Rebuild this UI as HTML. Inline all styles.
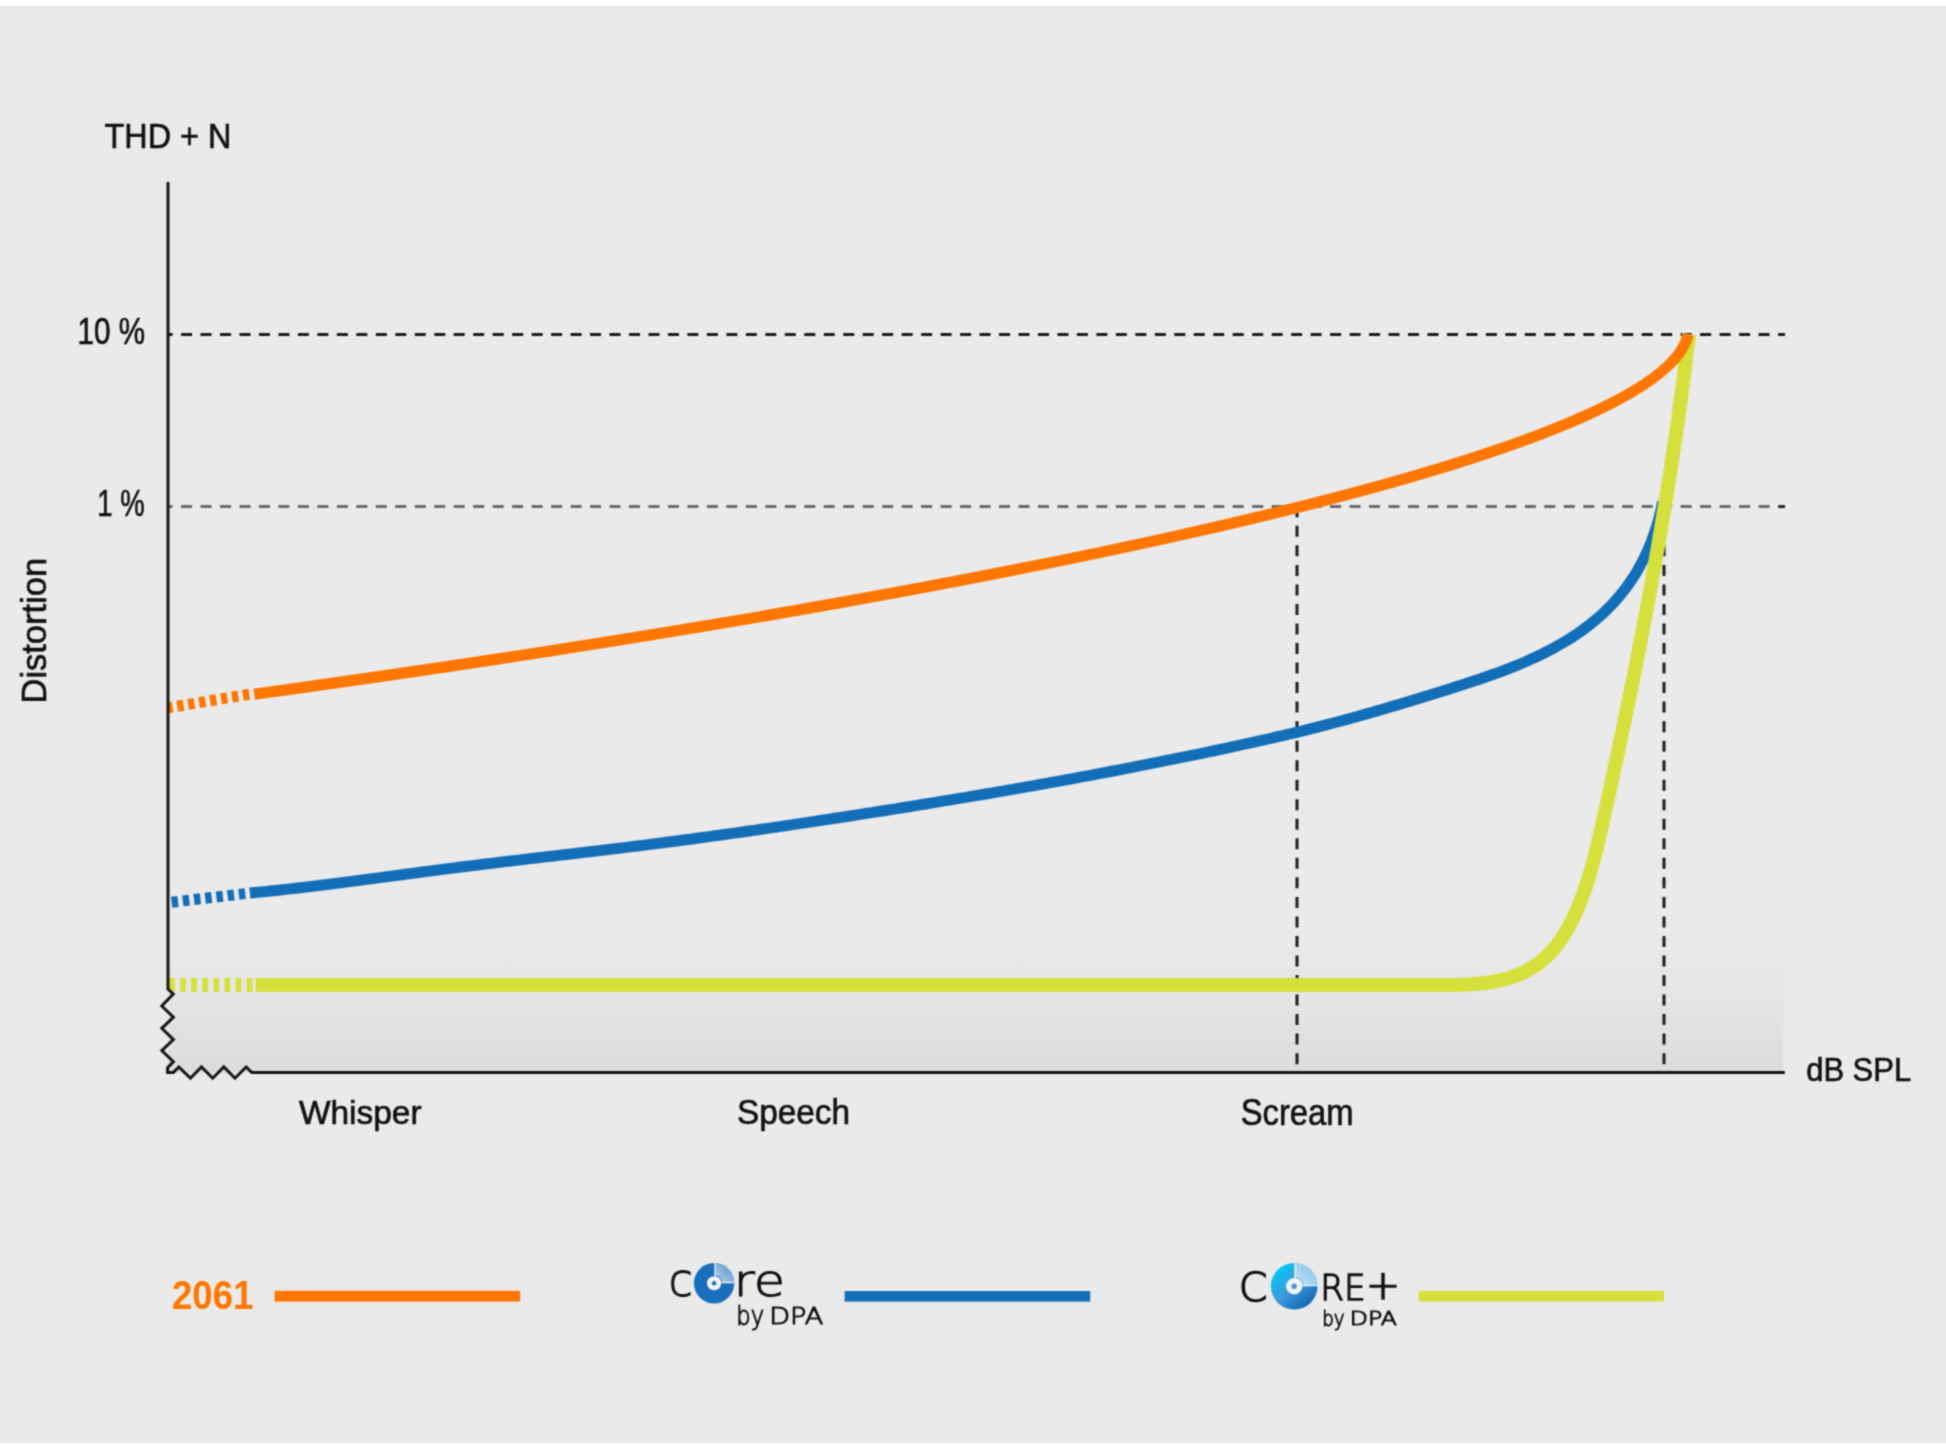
<!DOCTYPE html>
<html><head><meta charset="utf-8"><title>THD + N distortion chart</title>
<style>
html,body{margin:0;padding:0;background:#fff;}
body{width:1946px;height:1445px;overflow:hidden;}
svg{display:block;}
</style></head><body>
<svg width="1946" height="1445" viewBox="0 0 1946 1445">
<defs>
<filter id="soft" x="0" y="0" width="1946" height="1445" filterUnits="userSpaceOnUse" color-interpolation-filters="sRGB"><feConvolveMatrix order="3" kernelMatrix="0.04385 0.1217 0.04385 0.1217 0.3378 0.1217 0.04385 0.1217 0.04385" divisor="1" edgeMode="duplicate"/></filter>
<linearGradient id="floor" x1="0" y1="0" x2="0" y2="1"><stop offset="0" stop-color="#000" stop-opacity="0"/><stop offset="0.45" stop-color="#000" stop-opacity="0.018"/><stop offset="1" stop-color="#000" stop-opacity="0.062"/></linearGradient>
<linearGradient id="disc2" x1="0.15" y1="0.1" x2="0.85" y2="0.9"><stop offset="0" stop-color="#00caf8"/><stop offset="0.5" stop-color="#3d9bdb"/><stop offset="1" stop-color="#1263b3"/></linearGradient>
</defs>
<g filter="url(#soft)">
<rect x="0" y="0" width="1946" height="1445" fill="#ffffff"/>
<rect x="0" y="6" width="1946" height="1437" fill="#eaeaea"/>
<rect x="0" y="6" width="1946" height="1" fill="#e2e2e2"/>
<rect x="168" y="925" width="1615.5" height="148" fill="url(#floor)"/>
<line x1="168" y1="334.5" x2="1785" y2="334.5" stroke="#1c1c1c" stroke-width="3" stroke-dasharray="11 8.475" stroke-dashoffset="6.4"/>
<line x1="168" y1="506.6" x2="1785" y2="506.6" stroke="#6b6b6b" stroke-width="3" stroke-dasharray="11 8.475" stroke-dashoffset="6.4"/>
<line x1="1778.6" y1="506.6" x2="1785" y2="506.6" stroke="#2a2a2a" stroke-width="3"/>
<line x1="1297" y1="506.3" x2="1297" y2="1065" stroke="#1c1c1c" stroke-width="3" stroke-dasharray="11 8.53"/>
<line x1="1664" y1="506.3" x2="1664" y2="1065" stroke="#1c1c1c" stroke-width="3" stroke-dasharray="11 8.53"/>
<path d="M168,985 L256,985" stroke="#d5e03c" stroke-width="14" fill="none" stroke-dasharray="5.8 5.3" stroke-dashoffset="-1"/>
<path d="M168,902.6 L250.5,893" stroke="#126eb7" stroke-width="11" fill="none" stroke-dasharray="6.45 4.83" stroke-dashoffset="7.65"/>
<path d="M168,707.8 L250.5,694" stroke="#ff7600" stroke-width="11" fill="none" stroke-dasharray="6.4 4.7" stroke-dashoffset="1.77"/>
<path d="M250.0,893.0 255.1,892.5 260.2,892.1 265.2,891.6 270.3,891.0 275.4,890.5 280.5,890.0 285.5,889.4 290.6,888.9 295.7,888.3 300.7,887.7 305.8,887.1 310.8,886.5 315.9,885.9 321.0,885.3 326.0,884.6 331.1,884.0 336.1,883.4 341.2,882.7 346.3,882.1 351.3,881.4 356.4,880.8 361.4,880.1 366.5,879.4 371.5,878.8 376.6,878.1 381.6,877.4 386.7,876.7 391.7,876.1 396.8,875.4 401.9,874.7 406.9,874.0 412.0,873.4 417.0,872.7 422.1,872.0 427.1,871.4 432.2,870.7 437.2,870.1 442.3,869.4 447.4,868.8 452.4,868.1 457.5,867.5 462.5,866.8 467.6,866.2 472.6,865.6 477.7,865.0 482.8,864.3 487.8,863.7 492.9,863.1 498.0,862.5 503.0,861.9 508.1,861.3 513.1,860.7 518.2,860.1 523.3,859.5 528.3,858.9 533.4,858.3 538.5,857.7 543.5,857.1 548.6,856.5 553.7,856.0 558.7,855.4 563.8,854.8 568.9,854.2 573.9,853.6 579.0,853.0 584.0,852.4 589.1,851.8 594.2,851.2 599.2,850.6 604.3,850.0 609.4,849.4 614.4,848.8 619.5,848.2 624.5,847.6 629.6,846.9 634.7,846.3 639.7,845.7 644.8,845.1 649.8,844.4 654.9,843.8 660.0,843.1 665.0,842.5 670.1,841.8 675.1,841.2 680.2,840.5 685.2,839.8 690.3,839.2 695.3,838.5 700.4,837.8 705.4,837.1 710.5,836.4 715.5,835.7 720.6,835.0 725.6,834.3 730.7,833.6 735.7,832.9 740.8,832.2 745.8,831.5 750.9,830.8 755.9,830.1 761.0,829.3 766.0,828.6 771.1,827.9 776.1,827.1 781.2,826.4 786.2,825.6 791.2,824.9 796.3,824.1 801.3,823.4 806.4,822.6 811.4,821.9 816.5,821.1 821.5,820.3 826.5,819.6 831.6,818.8 836.6,818.0 841.7,817.3 846.7,816.5 851.7,815.7 856.8,814.9 861.8,814.1 866.8,813.3 871.9,812.6 876.9,811.8 882.0,811.0 887.0,810.2 892.0,809.4 897.1,808.6 902.1,807.8 907.1,807.0 912.2,806.2 917.2,805.3 922.2,804.5 927.3,803.7 932.3,802.9 937.3,802.1 942.4,801.2 947.4,800.4 952.4,799.6 957.5,798.7 962.5,797.9 967.5,797.1 972.6,796.2 977.6,795.4 982.6,794.5 987.6,793.7 992.7,792.8 997.7,791.9 1002.7,791.1 1007.7,790.2 1012.8,789.3 1017.8,788.4 1022.8,787.6 1027.8,786.7 1032.9,785.8 1037.9,784.9 1042.9,784.0 1047.9,783.1 1052.9,782.2 1058.0,781.3 1063.0,780.4 1068.0,779.5 1073.0,778.6 1078.0,777.6 1083.0,776.7 1088.0,775.8 1093.1,774.8 1098.1,773.9 1103.1,772.9 1108.1,772.0 1113.1,771.0 1118.1,770.1 1123.1,769.1 1128.1,768.2 1133.1,767.2 1138.1,766.2 1143.1,765.2 1148.1,764.2 1153.1,763.2 1158.1,762.2 1163.1,761.2 1168.1,760.2 1173.1,759.2 1178.1,758.2 1183.1,757.2 1188.1,756.2 1193.1,755.1 1198.1,754.1 1203.1,753.1 1208.1,752.0 1213.1,751.0 1218.1,749.9 1223.1,748.8 1228.0,747.8 1233.0,746.7 1238.0,745.6 1243.0,744.5 1248.0,743.4 1253.0,742.3 1257.9,741.2 1262.9,740.1 1267.9,739.0 1272.9,737.9 1277.8,736.7 1282.8,735.6 1287.7,734.4 1292.7,733.3 1297.7,732.1 1302.6,730.9 1307.5,729.6 1312.5,728.4 1317.4,727.1 1322.3,725.9 1327.2,724.6 1332.2,723.3 1337.1,722.0 1342.0,720.7 1346.9,719.4 1351.8,718.0 1356.7,716.7 1361.6,715.3 1366.5,713.9 1371.4,712.5 1376.2,711.1 1381.1,709.7 1386.0,708.3 1390.9,706.8 1395.8,705.4 1400.7,703.9 1405.5,702.5 1410.4,701.0 1415.3,699.5 1420.2,698.0 1425.1,696.5 1430.0,695.0 1434.8,693.5 1439.7,692.0 1444.6,690.4 1449.5,688.9 1454.4,687.3 1459.3,685.8 1464.2,684.2 1469.1,682.6 1473.9,681.0 1478.8,679.4 1483.7,677.7 1488.5,676.0 1493.4,674.3 1498.2,672.6 1503.0,670.8 1507.8,669.0 1512.5,667.1 1517.3,665.2 1522.0,663.2 1526.7,661.2 1531.3,659.1 1536.0,657.0 1540.6,654.8 1545.1,652.5 1549.7,650.2 1554.2,647.8 1558.6,645.3 1563.0,642.8 1567.4,640.2 1571.7,637.5 1576.0,634.7 1580.2,631.8 1584.3,628.8 1588.4,625.8 1592.3,622.6 1596.3,619.4 1600.1,616.0 1603.8,612.6 1607.5,609.1 1611.0,605.5 1614.5,601.7 1617.9,597.9 1621.1,594.0 1624.3,590.1 1627.3,586.0 1630.2,581.8 1633.1,577.6 1635.8,573.3 1638.4,568.9 1640.8,564.4 1643.2,559.9 1645.4,555.3 1647.6,550.7 1649.6,545.9 1651.5,541.2 1653.2,536.4 1654.9,531.5 1656.5,526.6 1657.9,521.7 1659.3,516.8 1660.5,511.8 1661.7,506.8 1662.7,501.8" stroke="#126eb7" stroke-width="11" fill="none" stroke-linejoin="round"/>
<path d="M255.8,985.0 L1380.0,985.0 1382.7,985.0 1385.5,985.0 1388.2,985.0 1391.0,985.0 1393.7,985.0 1396.4,985.0 1399.2,985.0 1401.9,985.0 1404.6,985.0 1407.3,985.0 1410.1,985.0 1412.8,985.0 1415.5,985.0 1418.2,985.0 1420.9,985.0 1423.7,985.0 1426.4,985.0 1429.1,985.0 1431.8,985.0 1434.6,985.0 1437.3,985.0 1440.1,985.0 1442.8,985.0 1445.5,985.0 1448.3,985.0 1451.1,985.0 1453.8,985.0 1456.6,984.9 1459.4,984.8 1462.2,984.7 1465.0,984.6 1467.7,984.4 1470.5,984.3 1473.3,984.1 1476.1,983.9 1478.9,983.6 1481.6,983.3 1484.4,983.0 1487.1,982.7 1489.9,982.3 1492.6,981.8 1495.3,981.3 1498.0,980.8 1500.7,980.2 1503.3,979.6 1505.9,978.9 1508.5,978.2 1511.1,977.4 1513.6,976.5 1516.2,975.6 1518.6,974.6 1521.1,973.6 1523.5,972.5 1525.9,971.3 1528.2,970.0 1530.5,968.7 1532.8,967.3 1535.0,965.9 1537.2,964.4 1539.3,962.8 1541.4,961.2 1543.4,959.4 1545.4,957.7 1547.3,955.9 1549.2,954.0 1551.0,952.0 1552.8,950.0 1554.6,948.0 1556.3,945.9 1557.9,943.8 1559.5,941.6 1561.1,939.3 1562.6,937.1 1564.1,934.8 1565.5,932.4 1566.9,930.1 1568.3,927.7 1569.6,925.2 1570.9,922.8 1572.2,920.3 1573.4,917.8 1574.6,915.2 1575.7,912.7 1576.9,910.2 1578.0,907.6 1579.0,905.0 1580.1,902.4 1581.1,899.8 1582.1,897.2 1583.0,894.6 1584.0,892.0 1584.9,889.4 1585.8,886.8 1586.6,884.2 1587.5,881.6 1588.3,878.9 1589.1,876.3 1589.9,873.7 1590.7,871.1 1591.4,868.4 1592.2,865.8 1592.9,863.2 1593.6,860.5 1594.3,857.9 1595.0,855.2 1595.7,852.6 1596.3,849.9 1597.0,847.3 1597.6,844.6 1598.2,842.0 1598.9,839.3 1599.5,836.7 1600.1,834.0 1600.7,831.4 1601.3,828.7 1601.9,826.0 1602.5,823.4 1603.1,820.7 1603.7,818.1 1604.3,815.4 1604.8,812.7 1605.4,810.1 1606.0,807.4 1606.6,804.8 1607.2,802.1 1607.8,799.4 1608.4,796.8 1608.9,794.1 1609.5,791.4 1610.1,788.8 1610.7,786.1 1611.3,783.4 1611.8,780.8 1612.4,778.1 1613.0,775.4 1613.6,772.8 1614.2,770.1 1614.7,767.4 1615.3,764.8 1615.9,762.1 1616.4,759.4 1617.0,756.8 1617.6,754.1 1618.1,751.4 1618.7,748.8 1619.3,746.1 1619.8,743.4 1620.4,740.7 1621.0,738.1 1621.5,735.4 1622.1,732.7 1622.7,730.1 1623.2,727.4 1623.8,724.7 1624.3,722.0 1624.9,719.4 1625.4,716.7 1626.0,714.0 1626.5,711.3 1627.1,708.7 1627.6,706.0 1628.2,703.3 1628.7,700.6 1629.3,698.0 1629.8,695.3 1630.4,692.6 1630.9,689.9 1631.5,687.3 1632.0,684.6 1632.5,681.9 1633.1,679.2 1633.6,676.5 1634.2,673.9 1634.7,671.2 1635.2,668.5 1635.8,665.8 1636.3,663.1 1636.8,660.5 1637.3,657.8 1637.9,655.1 1638.4,652.4 1638.9,649.7 1639.4,647.0 1640.0,644.4 1640.5,641.7 1641.0,639.0 1641.5,636.3 1642.0,633.6 1642.5,630.9 1643.1,628.3 1643.6,625.6 1644.1,622.9 1644.6,620.2 1645.1,617.5 1645.6,614.8 1646.1,612.1 1646.6,609.5 1647.1,606.8 1647.6,604.1 1648.1,601.4 1648.6,598.7 1649.1,596.0 1649.6,593.3 1650.1,590.6 1650.6,587.9 1651.1,585.3 1651.6,582.6 1652.1,579.9 1652.5,577.2 1653.0,574.5 1653.5,571.8 1654.0,569.1 1654.5,566.4 1655.0,563.7 1655.4,561.0 1655.9,558.3 1656.4,555.7 1656.8,553.0 1657.3,550.3 1657.8,547.6 1658.3,544.9 1658.7,542.2 1659.2,539.5 1659.6,536.8 1660.1,534.1 1660.6,531.4 1661.0,528.7 1661.5,526.0 1661.9,523.3 1662.4,520.6 1662.8,517.9 1663.3,515.2 1663.7,512.5 1664.2,509.8 1664.6,507.1 1665.1,504.4 1665.5,501.7 1665.9,499.1 1666.4,496.4 1666.8,493.7 1667.2,491.0 1667.7,488.3 1668.1,485.6 1668.5,482.9 1669.0,480.2 1669.4,477.5 1669.8,474.8 1670.2,472.1 1670.6,469.4 1671.1,466.7 1671.5,464.0 1671.9,461.3 1672.3,458.6 1672.7,455.9 1673.1,453.2 1673.5,450.5 1673.9,447.7 1674.3,445.0 1674.7,442.3 1675.1,439.6 1675.5,436.9 1675.9,434.2 1676.3,431.5 1676.7,428.8 1677.1,426.1 1677.5,423.4 1677.9,420.7 1678.2,418.0 1678.6,415.3 1679.0,412.6 1679.4,409.9 1679.7,407.2 1680.1,404.5 1680.5,401.8 1680.9,399.1 1681.2,396.4 1681.6,393.7 1681.9,391.0 1682.3,388.3 1682.7,385.5 1683.0,382.8 1683.4,380.1 1683.7,377.4 1684.1,374.7 1684.4,372.0 1684.8,369.3 1685.1,366.6 1685.5,363.9 1685.8,361.2 1686.1,358.5 1686.5,355.8 1686.8,353.0 1687.1,350.3 1687.4,347.6 1687.8,344.9 1688.1,342.2 1688.4,339.5 1688.7,336.8 1689.1,334.1" stroke="#d5e03c" stroke-width="14" fill="none" stroke-linejoin="round"/>
<path d="M252.00,693.80 C840.66,613.35 1660.21,469.13 1688.00,334.00" stroke="#ff7600" stroke-width="11.2" fill="none" stroke-dasharray="0 2.3 100000" transform="translate(0,0.7)"/>
<path d="M168,182 L168,989 L173.2,994 L161.8,1006 L173.4,1017.2 L161.8,1028.3 L173.4,1039.5 L161.8,1050.6 L173.4,1061.7 L167.6,1067.6 L167.6,1072.4 L173.4,1072.4 L178.8,1067 L190.4,1078.2 L201.5,1067 L212.7,1078.2 L223.8,1067 L235,1078.2 L246.1,1067 L251.9,1072.6 L1784.8,1072.6" stroke="#151515" stroke-width="3" fill="none" stroke-linejoin="miter"/>
<rect x="274.5" y="1290.8" width="245.7" height="10.8" fill="#ff7600"/>
<rect x="844.6" y="1291" width="245.6" height="10.6" fill="#126eb7"/>
<rect x="1418.7" y="1290.8" width="245.3" height="10.8" fill="#d5e03c"/>
<circle cx="714.10" cy="1283.25" r="20.20" fill="#1a6fbd"/>
<path d="M714.10,1283.25 L714.10,1263.05 A20.20,20.20 0 0 1 734.30,1283.25 Z" fill="#5591cd"/>
<line x1="715.22" y1="1274.72" x2="716.76" y2="1263.02" stroke="#ffffff" stroke-width="0.9" stroke-opacity="0.75"/>
<line x1="716.33" y1="1274.94" x2="719.38" y2="1263.55" stroke="#ffffff" stroke-width="0.9" stroke-opacity="0.75"/>
<line x1="717.39" y1="1275.30" x2="721.91" y2="1264.40" stroke="#ffffff" stroke-width="0.9" stroke-opacity="0.75"/>
<line x1="718.40" y1="1275.80" x2="724.30" y2="1265.58" stroke="#ffffff" stroke-width="0.9" stroke-opacity="0.75"/>
<line x1="719.34" y1="1276.43" x2="726.52" y2="1267.07" stroke="#ffffff" stroke-width="0.9" stroke-opacity="0.75"/>
<line x1="720.18" y1="1277.17" x2="728.52" y2="1268.83" stroke="#ffffff" stroke-width="0.9" stroke-opacity="0.75"/>
<line x1="720.92" y1="1278.01" x2="730.28" y2="1270.83" stroke="#ffffff" stroke-width="0.9" stroke-opacity="0.75"/>
<line x1="721.55" y1="1278.95" x2="731.77" y2="1273.05" stroke="#ffffff" stroke-width="0.9" stroke-opacity="0.75"/>
<line x1="722.05" y1="1279.96" x2="732.95" y2="1275.44" stroke="#ffffff" stroke-width="0.9" stroke-opacity="0.75"/>
<line x1="722.41" y1="1281.02" x2="733.80" y2="1277.97" stroke="#ffffff" stroke-width="0.9" stroke-opacity="0.75"/>
<line x1="722.63" y1="1282.13" x2="734.33" y2="1280.59" stroke="#ffffff" stroke-width="0.9" stroke-opacity="0.75"/>
<line x1="715.00" y1="1262.55" x2="715.00" y2="1276.15" stroke="#fff" stroke-width="1"/>
<line x1="721.20" y1="1282.65" x2="734.80" y2="1282.65" stroke="#fff" stroke-width="1"/>
<circle cx="714.10" cy="1283.25" r="7.10" fill="#f2f2f2"/>
<circle cx="714.10" cy="1283.25" r="2.20" fill="#1a6fbd"/>
<circle cx="1294.20" cy="1286.20" r="23.30" fill="url(#disc2)"/>
<path d="M1294.20,1286.20 L1294.20,1262.90 A23.30,23.30 0 0 1 1317.50,1286.20 Z" fill="#86c2ea"/>
<line x1="1295.47" y1="1276.58" x2="1297.27" y2="1262.90" stroke="#ffffff" stroke-width="0.9" stroke-opacity="0.75"/>
<line x1="1296.71" y1="1276.83" x2="1300.28" y2="1263.50" stroke="#ffffff" stroke-width="0.9" stroke-opacity="0.75"/>
<line x1="1297.91" y1="1277.24" x2="1303.19" y2="1264.49" stroke="#ffffff" stroke-width="0.9" stroke-opacity="0.75"/>
<line x1="1299.05" y1="1277.80" x2="1305.95" y2="1265.85" stroke="#ffffff" stroke-width="0.9" stroke-opacity="0.75"/>
<line x1="1300.10" y1="1278.50" x2="1308.51" y2="1267.56" stroke="#ffffff" stroke-width="0.9" stroke-opacity="0.75"/>
<line x1="1301.06" y1="1279.34" x2="1310.82" y2="1269.58" stroke="#ffffff" stroke-width="0.9" stroke-opacity="0.75"/>
<line x1="1301.90" y1="1280.30" x2="1312.84" y2="1271.89" stroke="#ffffff" stroke-width="0.9" stroke-opacity="0.75"/>
<line x1="1302.60" y1="1281.35" x2="1314.55" y2="1274.45" stroke="#ffffff" stroke-width="0.9" stroke-opacity="0.75"/>
<line x1="1303.16" y1="1282.49" x2="1315.91" y2="1277.21" stroke="#ffffff" stroke-width="0.9" stroke-opacity="0.75"/>
<line x1="1303.57" y1="1283.69" x2="1316.90" y2="1280.12" stroke="#ffffff" stroke-width="0.9" stroke-opacity="0.75"/>
<line x1="1303.82" y1="1284.93" x2="1317.50" y2="1283.13" stroke="#ffffff" stroke-width="0.9" stroke-opacity="0.75"/>
<line x1="1295.10" y1="1262.40" x2="1295.10" y2="1278.00" stroke="#fff" stroke-width="1"/>
<line x1="1302.40" y1="1285.60" x2="1318.00" y2="1285.60" stroke="#fff" stroke-width="1"/>
<circle cx="1294.20" cy="1286.20" r="8.20" fill="#f2f2f2"/>
<circle cx="1294.20" cy="1286.20" r="2.70" fill="#3d9bdb"/>
<text id="t_thd" x="104.60" y="148.40" font-family="'Liberation Sans', Arial, sans-serif" font-size="35.33" fill="#111111" textLength="126.80" lengthAdjust="spacingAndGlyphs" stroke="#111111" stroke-width="0.65">THD + N</text>
<text id="t_10" x="77.50" y="344.10" font-family="'Liberation Sans', Arial, sans-serif" font-size="37.25" fill="#111111" textLength="67.50" lengthAdjust="spacingAndGlyphs" stroke="#111111" stroke-width="0.65">10 %</text>
<text id="t_1" x="97.20" y="516.20" font-family="'Liberation Sans', Arial, sans-serif" font-size="37.26" fill="#111111" textLength="47.40" lengthAdjust="spacingAndGlyphs" stroke="#111111" stroke-width="0.65">1 %</text>
<text id="t_db" x="1806.20" y="1080.60" font-family="'Liberation Sans', Arial, sans-serif" font-size="33.27" fill="#111111" textLength="104.90" lengthAdjust="spacingAndGlyphs" stroke="#111111" stroke-width="0.65">dB SPL</text>
<text id="t_wh" x="298.90" y="1124.30" font-family="'Liberation Sans', Arial, sans-serif" font-size="33.57" fill="#111111" textLength="122.70" lengthAdjust="spacingAndGlyphs" stroke="#111111" stroke-width="0.65">Whisper</text>
<text id="t_sp" x="736.90" y="1124.30" font-family="'Liberation Sans', Arial, sans-serif" font-size="34.50" fill="#111111" textLength="113.10" lengthAdjust="spacingAndGlyphs" stroke="#111111" stroke-width="0.65">Speech</text>
<text id="t_sc" x="1240.70" y="1124.70" font-family="'Liberation Sans', Arial, sans-serif" font-size="36.94" fill="#111111" textLength="112.90" lengthAdjust="spacingAndGlyphs" stroke="#111111" stroke-width="0.65">Scream</text>
<text id="t_2061" x="172.00" y="1309.20" font-family="'Liberation Sans', Arial, sans-serif" font-size="40.90" fill="#ff7600" textLength="81.50" lengthAdjust="spacingAndGlyphs" font-weight="bold">2061</text>
<text id="t_c" x="668.80" y="1296.30" font-family="'DejaVu Sans', sans-serif" font-size="45.80" fill="#111111" textLength="24.04" lengthAdjust="spacingAndGlyphs" font-weight="200" stroke="#111111" stroke-width="1.10">c</text>
<text id="t_re" x="733.80" y="1296.30" font-family="'DejaVu Sans', sans-serif" font-size="44.96" fill="#111111" textLength="51.22" lengthAdjust="spacingAndGlyphs" font-weight="200" stroke="#111111" stroke-width="1.10">re</text>
<text id="t_by1" x="736.30" y="1324.60" font-family="'DejaVu Sans', sans-serif" font-size="26.04" fill="#111111" textLength="27.89" lengthAdjust="spacingAndGlyphs" font-weight="200" stroke="#111111" stroke-width="1.00">by</text>
<text id="t_dpa1" x="769.20" y="1323.60" font-family="'DejaVu Sans', sans-serif" font-size="22.53" fill="#111111" textLength="54.03" lengthAdjust="spacingAndGlyphs" font-weight="200" stroke="#111111" stroke-width="1.00">DPA</text>
<text id="t_C" x="1238.80" y="1300.70" font-family="'DejaVu Sans', sans-serif" font-size="38.65" fill="#111111" textLength="28.64" lengthAdjust="spacingAndGlyphs" font-weight="200" stroke="#111111" stroke-width="1.40">C</text>
<text id="t_RE" x="1320.20" y="1299.70" font-family="'DejaVu Sans', sans-serif" font-size="35.82" fill="#111111" textLength="45.35" lengthAdjust="spacingAndGlyphs" font-weight="200" stroke="#111111" stroke-width="1.40">RE</text>
<text id="t_plus" x="1365.80" y="1299.20" font-family="'DejaVu Sans', sans-serif" font-size="40.34" fill="#111111" textLength="34.56" lengthAdjust="spacingAndGlyphs" font-weight="200" stroke="#111111" stroke-width="1.40">+</text>
<text id="t_by2" x="1322.20" y="1326.20" font-family="'DejaVu Sans', sans-serif" font-size="21.04" fill="#111111" textLength="22.42" lengthAdjust="spacingAndGlyphs" font-weight="200" stroke="#111111" stroke-width="1.00">by</text>
<text id="t_dpa2" x="1349.80" y="1325.20" font-family="'DejaVu Sans', sans-serif" font-size="18.70" fill="#111111" textLength="47.04" lengthAdjust="spacingAndGlyphs" font-weight="200" stroke="#111111" stroke-width="1.00">DPA</text>
<text id="t_dist" transform="translate(45.90,703.50) rotate(-90)" font-family="'Liberation Sans', Arial, sans-serif" font-size="35.30" textLength="145.60" lengthAdjust="spacingAndGlyphs" fill="#111111" stroke="#111111" stroke-width="0.65">Distortion</text>
</g>
</svg>
</body></html>
